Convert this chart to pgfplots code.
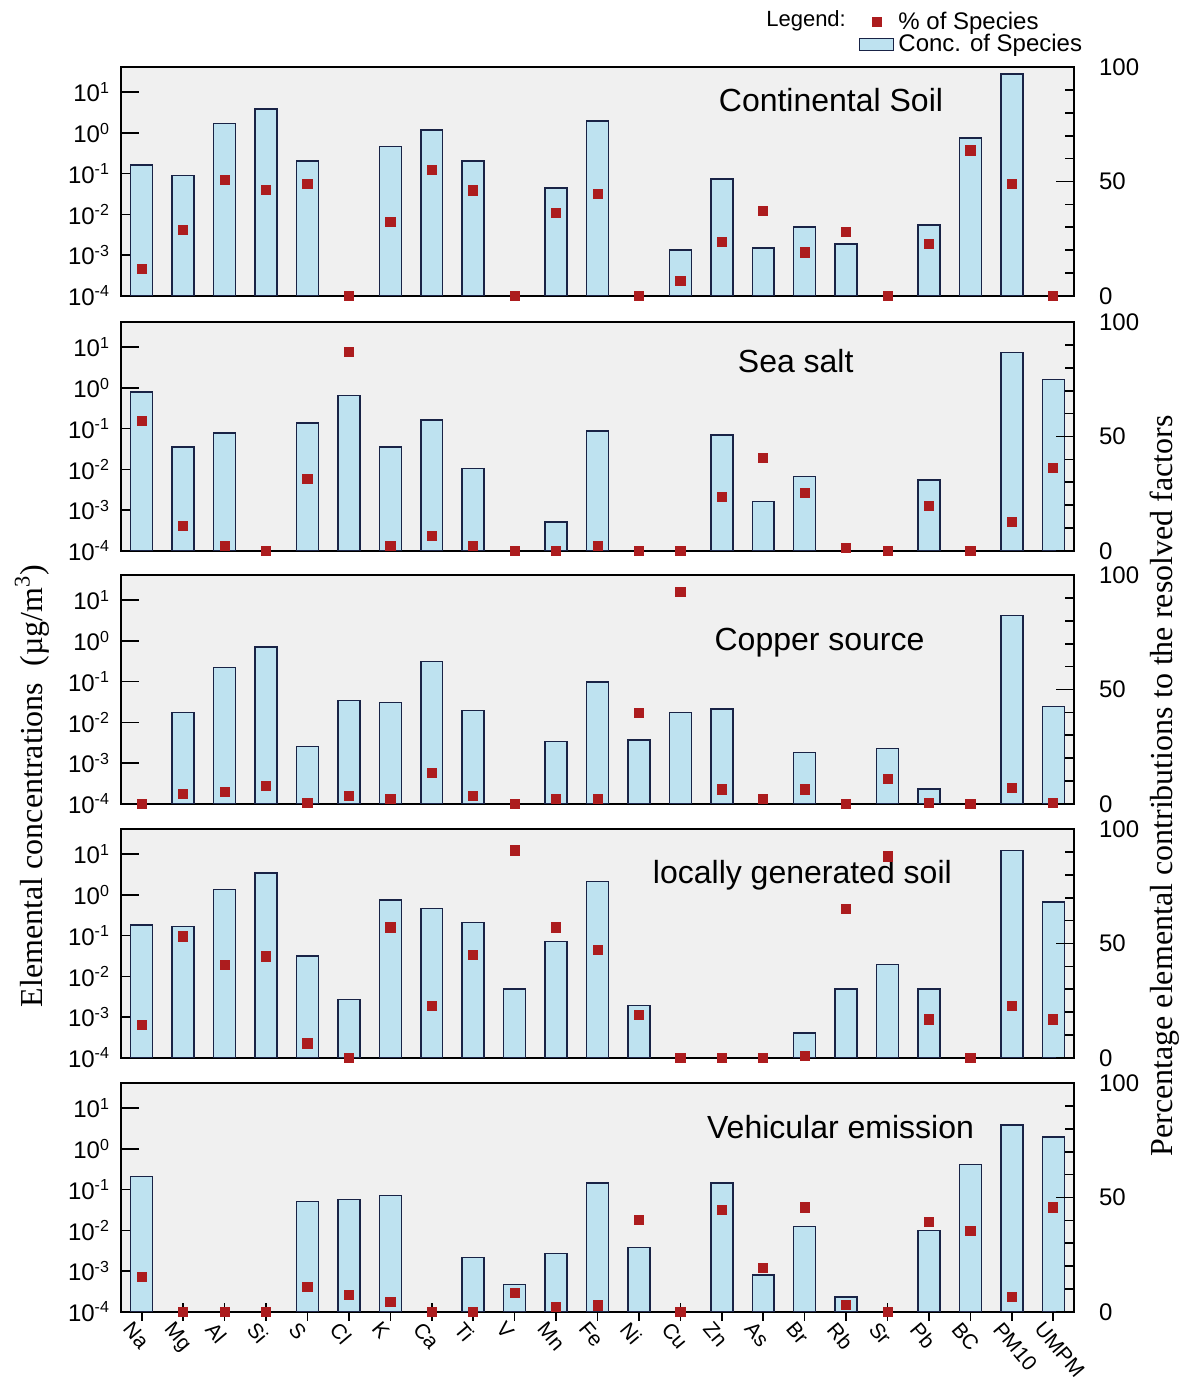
\documentclass[border=0pt]{standalone}
\usepackage{fontspec}
\setmainfont{Liberation Sans}
\newfontfamily\seriffont{Liberation Serif}
\usepackage{pgfplots}
\usepackage{pgfplotstable}
\pgfplotsset{compat=1.18}
\definecolor{barfill}{RGB}{190,226,240}
\definecolor{baredge}{RGB}{25,35,70}
\definecolor{mk}{RGB}{172,28,30}
\definecolor{bg}{RGB}{240,240,240}

\pgfplotstableread{
x conc pct
0 0.164 11.7
1 0.090 29.0
2 1.73 50.6
3 3.9 46.2
4 0.206 49.0
5 nan 0
6 0.47 32.5
7 1.19 55.1
8 0.206 46.1
9 nan 0
10 0.0448 36.2
11 1.94 44.5
12 nan 0
13 0.00132 6.6
14 0.073 23.5
15 0.00148 37.2
16 0.00485 19.0
17 0.00189 28.1
18 nan 0
19 0.00553 22.6
20 0.757 63.6
21 28.2 49.0
22 nan 0
}\tabA

\pgfplotstableread{
x conc pct
0 0.79 57.0
1 0.035 10.9
2 0.079 2.2
3 nan 0
4 0.139 31.6
5 0.65 87.0
6 0.035 2.2
7 0.161 6.4
8 0.0106 2.2
9 nan 0
10 0.00051 0
11 0.0885 2.2
12 nan 0
13 nan 0
14 0.0706 23.5
15 0.00164 40.7
16 0.00675 25.2
17 nan 1.2
18 nan 0
19 0.00548 19.7
20 nan 0
21 7.47 12.5
22 1.63 36.2
}\tabB

\pgfplotstableread{
x conc pct
0 nan 0
1 0.0173 4.4
2 0.222 5.2
3 0.713 8.0
4 0.00258 0.3
5 0.0346 3.4
6 0.0309 2.2
7 0.312 13.4
8 0.0193 3.4
9 nan 0
10 0.00336 2.2
11 0.097 2.2
12 0.00369 39.7
13 0.0173 92.6
14 0.0216 6.3
15 nan 2.2
16 0.00184 6.3
17 nan 0
18 0.00231 10.8
19 0.000229 0.5
20 nan 0
21 4.17 7.1
22 0.0242 0.5
}\tabC

\pgfplotstableread{
x conc pct
0 0.183 14.3
1 0.166 53.1
2 1.35 40.7
3 3.47 44.4
4 0.0316 6.3
5 0.00267 0
6 0.753 57.1
7 0.47 22.7
8 0.209 45.2
9 0.00489 90.8
10 0.071 57.1
11 2.17 47.1
12 0.00194 18.7
13 nan 0
14 nan 0
15 nan 0
16 0.000412 1.0
17 0.00489 65.3
18 0.0197 88.1
19 0.00489 16.8
20 nan 0
21 12.5 22.7
22 0.673 16.8
}\tabD

\pgfplotstableread{
x conc pct
0 0.213 15.4
1 nan 0
2 nan 0
3 nan 0
4 0.0507 11.0
5 0.0578 7.3
6 0.0726 4.4
7 nan 0
8 0.00213 0
9 0.00047 8.2
10 0.00272 2.2
11 0.146 2.8
12 0.00382 40.2
13 nan 0
14 0.144 44.6
15 0.00081 19.2
16 0.0125 45.7
17 0.000229 2.9
18 nan 0
19 0.0098 39.2
20 0.42 35.5
21 3.89 6.5
22 1.94 45.7
}\tabE

\pgfplotsset{
  myPanel/.style={width=476.5pt, height=114.25pt, scale only axis,
    xmin=-0.5, xmax=22.5, anchor=north west,
    tick label style={font=\fontsize{12}{14}\selectfont},
    tick style={black, line width=0.8pt}},
  myLeft/.style={myPanel, ymin=1e-4, ymax=41,
    ytick={1e-4,1e-3,1e-2,1e-1,1,10},
    yticklabels={10\textsuperscript{-4},10\textsuperscript{-3},10\textsuperscript{-2},10\textsuperscript{-1},10\textsuperscript{0},10\textsuperscript{1}},
    yticklabel style={xshift=-2pt},
    yminorticks=false, ytick pos=left, ytick align=inside, major tick length=9pt,
    xtick=\empty,
    axis background/.style={fill=bg},
    axis line style={line width=0.9pt, black},
    bar width=0.53},
  myRight/.style={myPanel, ymin=0, ymax=100, axis line style={draw=none},
    xtick=\empty, ytick={0,50,100}, minor ytick={10,20,30,40,60,70,80,90},
    ytick pos=right, ytick align=inside, major tick length=9pt, minor tick length=4.5pt,
    /pgf/number format/assume math mode=true,
    yticklabel style={xshift=9pt}, clip=false},
  myBars/.style={fill=barfill, draw=baredge, line width=0.75pt},
  myMarks/.style={only marks, mark=square*, mark size=2.3pt, color=mk}
}
\tikzset{myTtl/.style={font=\fontsize{16}{18}\selectfont}}

\begin{document}
\begin{tikzpicture}
\useasboundingbox (0,0) rectangle (596pt,691.5pt);

% Panel 1
\begin{axis}[ymode=log, log origin=infty, ybar, myLeft, at={(60.5pt,657.85pt)}]
\addplot[myBars] table[x=x,y=conc]{\tabA};
\end{axis}
\begin{axis}[myRight, at={(60.5pt,657.85pt)},
  legend style={draw=none, fill=none, at={(0.772,1.27)}, anchor=north west,
    font=\fontsize{12}{14}\selectfont, row sep=-3pt, inner sep=1pt},
  legend cell align=left]
\addplot[myMarks] table[x=x,y=pct]{\tabA};
\addlegendentry{\% of Species}
\addlegendimage{area legend, fill=barfill, draw=baredge, line width=0.6pt}
\addlegendentry{Conc. of Species}
\node[myTtl] at (axis description cs:0.745,0.856) {Continental Soil};
\node[anchor=east, font=\fontsize{11}{13}\selectfont] at (axis description cs:0.768,1.205) {Legend:};
\end{axis}

% Panel 2
\begin{axis}[ymode=log, log origin=infty, ybar, myLeft, at={(60.5pt,530.35pt)}]
\addplot[myBars] table[x=x,y=conc]{\tabB};
\end{axis}
\begin{axis}[myRight, at={(60.5pt,530.35pt)}]
\addplot[myMarks] table[x=x,y=pct]{\tabB};
\node[myTtl] at (axis description cs:0.708,0.83) {Sea salt};
\end{axis}

% Panel 3
\begin{axis}[ymode=log, log origin=infty, ybar, myLeft, at={(60.5pt,403.85pt)}]
\addplot[myBars] table[x=x,y=conc]{\tabC};
\end{axis}
\begin{axis}[myRight, at={(60.5pt,403.85pt)}]
\addplot[myMarks] table[x=x,y=pct]{\tabC};
\node[myTtl] at (axis description cs:0.733,0.707) {Copper source};
\end{axis}

% Panel 4
\begin{axis}[ymode=log, log origin=infty, ybar, myLeft, at={(60.5pt,276.85pt)}]
\addplot[myBars] table[x=x,y=conc]{\tabD};
\end{axis}
\begin{axis}[myRight, at={(60.5pt,276.85pt)}]
\addplot[myMarks] table[x=x,y=pct]{\tabD};
\node[myTtl] at (axis description cs:0.715,0.80) {locally generated soil};
\end{axis}

% Panel 5
\begin{axis}[ymode=log, log origin=infty, ybar, myLeft, at={(60.5pt,149.85pt)},
  xtick={0,...,22},
  xticklabels={Na,Mg,Al,Si,S,Cl,K,Ca,Ti,V,Mn,Fe,Ni,Cu,Zn,As,Br,Rb,Sr,Pb,BC,PM10,UMPM},
  xtick pos=bottom, xtick align=center,
  xticklabel style={rotate=-50, anchor=north west, inner sep=1pt, xshift=-4pt, yshift=-2pt, font=\fontsize{10.5}{12}\selectfont}]
\addplot[myBars] table[x=x,y=conc]{\tabE};
\end{axis}
\begin{axis}[myRight, at={(60.5pt,149.85pt)}]
\addplot[myMarks] table[x=x,y=pct]{\tabE};
\node[myTtl] at (axis description cs:0.755,0.808) {Vehicular emission};
\end{axis}

\node[rotate=90, font=\seriffont\fontsize{16}{18}\selectfont] at (16pt,298.5pt) {Elemental concentrations~~(µg/m\textsuperscript{3})};
\node[rotate=90, font=\seriffont\fontsize{16}{18}\selectfont] at (582.5pt,298.5pt) {Percentage elemental contributions to the resolved factors};
\end{tikzpicture}
\end{document}
